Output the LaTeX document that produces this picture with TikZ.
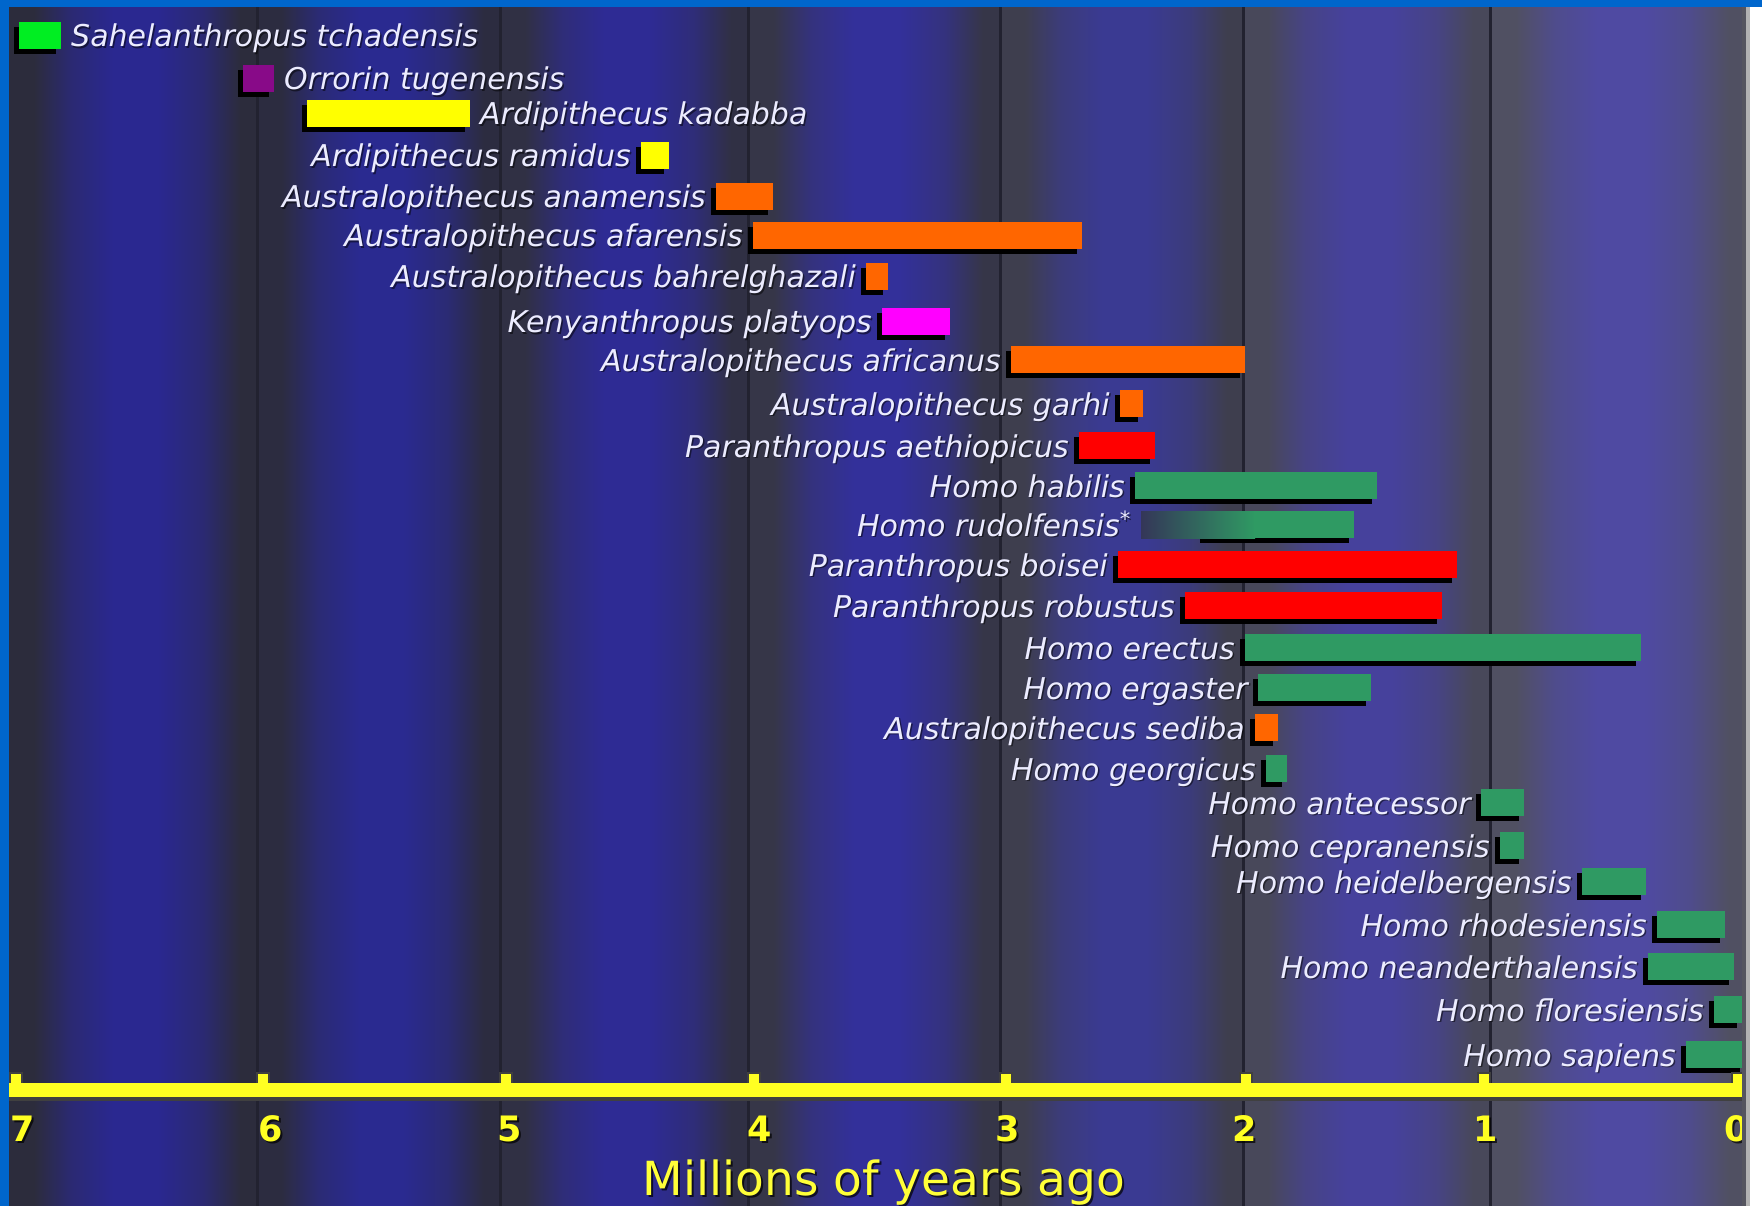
\documentclass[tikz,border=0pt]{standalone}
\usepackage{fontspec}
\setmainfont{DejaVu Sans}

% colours
\definecolor{frameblue}{HTML}{0066CC}
\definecolor{sahelgreen}{HTML}{00EE22}
\definecolor{orrpurple}{HTML}{880A88}
\definecolor{ardyellow}{HTML}{FFFF00}
\definecolor{ausorange}{HTML}{FF6600}
\definecolor{kenmagenta}{HTML}{FF00FF}
\definecolor{parared}{HTML}{FF0000}
\definecolor{homogreen}{HTML}{2F9A63}
\definecolor{axisyellow}{HTML}{FFFF22}
\definecolor{labwhite}{HTML}{ECECFF}
\definecolor{gridc}{HTML}{222230}
\definecolor{rudostart}{HTML}{343658}
\definecolor{edgegray}{HTML}{55555F}
\colorlet{bandedge}{black}
\colorlet{bandmid}{blue}
\colorlet{bandmix}{blue}

% one time column: dark at both sides, blue in the middle
\pgfdeclarehorizontalshading[bandedge,bandmid,bandmix]{band}{100bp}{%
  color(0bp)=(bandedge); color(25bp)=(bandedge); color(30bp)=(bandedge);
  color(37.5bp)=(bandmix); color(46bp)=(bandmid); color(55bp)=(bandmid);
  color(64bp)=(bandmix); color(71.5bp)=(bandedge); color(100bp)=(bandedge)}

\tikzset{
  lab/.style={text=labwhite, font=\fontsize{30}{36}\selectfont\itshape, inner sep=0pt},
  labshadow/.style={lab, text=black, opacity=0.5},
  ticklab/.style={text=axisyellow, font=\fontsize{35}{40}\selectfont\bfseries, inner sep=0pt},
  tickshadow/.style={ticklab, text=black, opacity=0.7},
  titlelab/.style={text=axisyellow!90!white, font=\fontsize{47}{52}\selectfont, inner sep=0pt},
  gridline/.style={draw=gridc, line width=3pt},
}

\begin{document}
\begin{tikzpicture}[x=1pt,y=-1pt]
\useasboundingbox (0,0) rectangle (1762,1206);
\fill[white] (0,0) rectangle (1762,1206);

% background columns, one per million years
\foreach \xl/\xr/\ec/\mc in {
   9/257/2C2C3C/2A2890,
   257/500/2C2C40/2A2A90,
   500/748/303044/2E2B94,
   748/1000/363648/33309A,
   1000/1243/3E3E4E/3A3A92,
   1243/1490/48485A/46419C,
   1490/1746/505062/4F4AA2}{
  \definecolor{bandedge}{HTML}{\ec}
  \definecolor{bandmid}{HTML}{\mc}
  \colorlet{bandmix}{bandmid!65!bandedge}
  \fill[shading=band] (\xl,0) rectangle (\xr+0.5,1206);
}
\foreach \gx in {257,500,748,1000,1243,1490}
  \draw[gridline] (\gx,0) -- (\gx,1206);

% bars with their labels to the right
\foreach \n/\txt/\xa/\xb/\yc/\col in {
   1/Sahelanthropus tchadensis/19/61/36/sahelgreen,
   2/Orrorin tugenensis/243/274/79/orrpurple,
   3/Ardipithecus kadabba/307/470/114/ardyellow}{
  \fill[black] (\xa-5,\yc-9) rectangle (\xb-5,\yc+18);
  \fill[\col] (\xa,\yc-14) rectangle (\xb,\yc+13);
  \node[labshadow, anchor=base west] (rs\n) at (\xb+11.5,\yc+12.5) {\txt};
  \node[lab, anchor=base west] (r\n) at (\xb+10,\yc+11) {\txt};
}

% bars with their labels to the left
\foreach \n/\txt/\xa/\xb/\yc/\col in {
   4/Ardipithecus ramidus/641/669/156/ardyellow,
   5/Australopithecus anamensis/716/773/197/ausorange,
   6/Australopithecus afarensis/753/1082/236/ausorange,
   7/Australopithecus bahrelghazali/866/888/277/ausorange,
   8/Kenyanthropus platyops/882/950/322/kenmagenta,
   9/Australopithecus africanus/1011/1245/360/ausorange,
   10/Australopithecus garhi/1120/1143/404/ausorange,
   11/Paranthropus aethiopicus/1079/1155/446/parared,
   12/Homo habilis/1135/1377/486/homogreen,
   14/Paranthropus boisei/1118/1457/565/parared,
   15/Paranthropus robustus/1185/1442/606/parared,
   16/Homo erectus/1245/1641/648/homogreen,
   17/Homo ergaster/1258/1371/688/homogreen,
   18/Australopithecus sediba/1255/1278/728/ausorange,
   19/Homo georgicus/1266/1287/769/homogreen,
   20/Homo antecessor/1481/1524/803/homogreen,
   21/Homo cepranensis/1500/1524/846/homogreen,
   22/Homo heidelbergensis/1582/1646/882/homogreen,
   23/Homo rhodesiensis/1657/1725/925/homogreen,
   24/Homo neanderthalensis/1648/1734/967/homogreen,
   25/Homo floresiensis/1714/1742/1010/homogreen,
   26/Homo sapiens/1686/1745/1055/homogreen}{
  \fill[black] (\xa-5,\yc-9) rectangle (\xb-5,\yc+18);
  \fill[\col] (\xa,\yc-14) rectangle (\xb,\yc+13);
  \node[labshadow, anchor=base east] (ls\n) at (\xa-8.5,\yc+12.5) {\txt};
  \node[lab, anchor=base east] (l\n) at (\xa-10,\yc+11) {\txt};
}

% Homo rudolfensis: bar fading in from the left
\fill[black] (1200,516) rectangle (1349,543);
\fill[left color=rudostart, right color=homogreen] (1141,511) rectangle (1255,538);
\fill[homogreen] (1254,511) rectangle (1354,538);
\node[labshadow, anchor=base east] (ls13) at (1132.5,537.5) {Homo rudolfensis\textsuperscript{*}};
\node[lab, anchor=base east] (l13) at (1131,536) {Homo rudolfensis\textsuperscript{*}};

% time axis
\fill[black!75] (9,1087) rectangle (1746,1101);
\foreach \tx in {16,263,506,754,1006,1246,1484,1738}{
  \fill[black!75] (\tx-7,1072) rectangle (\tx+7,1090);
  \fill[axisyellow] (\tx-5,1074) rectangle (\tx+5,1090);
}
\fill[axisyellow] (9,1083) rectangle (1746,1097);

\foreach \tx/\tv in {23/7,271/6,510/5,760/4,1008/3,1245/2,1486/1,1737/0}{
  \node[tickshadow] (ts\tv) at (\tx+2,1131) {\tv};
  \node[ticklab] (t\tv) at (\tx,1129) {\tv};
}

\node[titlelab, text=black, opacity=0.7, anchor=base] (titleshadow) at (886,1197) {Millions of years ago};
\node[titlelab, anchor=base] (title) at (884,1195) {Millions of years ago};

% frame
\fill[frameblue] (0,0) rectangle (1762,7);
\fill[frameblue] (0,0) rectangle (9,1206);
\fill[edgegray] (1742,7) rectangle (1746,1206);
\fill[black!30] (1746,7) rectangle (1750,1206);
\fill[white] (1750,7) rectangle (1762,1206);
\end{tikzpicture}
\end{document}
